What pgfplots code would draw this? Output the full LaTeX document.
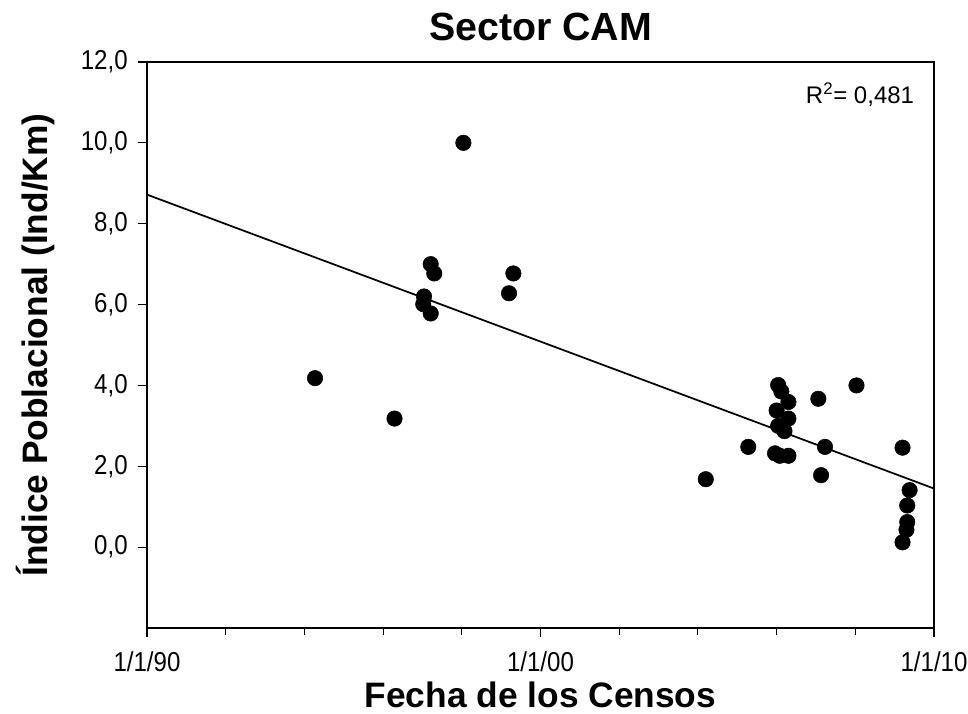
\documentclass[border=0pt]{standalone}
\usepackage{fontspec}
\setmainfont{Liberation Sans}
\usepackage{pgfplots}
\pgfplotsset{compat=1.18}
\begin{document}
\begin{tikzpicture}
\useasboundingbox (0,0) rectangle (726pt,535.5pt);
\begin{axis}[
  at={(110.25pt,64.5pt)}, anchor=south west,
  scale only axis, width=590.25pt, height=424.5pt,
  xmin=1990, xmax=2010, ymin=-2, ymax=12,
  axis line style={line width=1pt},
  xtick={1990,2000,2010}, xticklabels={1/1/90,1/1/00,1/1/10},
  minor xtick={1992,1994,1996,1998,2002,2004,2006,2008},
  ytick={0,2,4,6,8,10,12},
  tick align=outside, tick pos=left,
  major tick length=7pt, minor tick length=5pt,
  every tick/.style={black, line width=0.8pt},
  /pgf/number format/assume math mode=true,
  yticklabel style={/pgf/number format/fixed, /pgf/number format/fixed zerofill,
    /pgf/number format/precision=1, /pgf/number format/use comma, xshift=-5pt},
  xticklabel style={yshift=-7pt},
  ticklabel style={font=\fontsize{20.5}{23}\selectfont, xscale=0.88},
  title={Sector CAM},
  title style={font=\bfseries\fontsize{29.5}{32}\selectfont, at={(axis description cs:0.5,1.048)}, anchor=center},
  xlabel={Fecha de los Censos},
  xlabel style={font=\bfseries\fontsize{26.5}{30}\selectfont, at={(axis description cs:0.5,-0.118)}, anchor=center},
  ylabel={Índice Poblacional (Ind/Km)},
  ylabel style={font=\bfseries\fontsize{26.5}{30}\selectfont, at={(axis description cs:-0.142,0.5)}, anchor=center, rotate=0},
  clip=false,
]
\addplot[black, line width=1.3pt] coordinates {(1990,8.72) (2010,1.45)};
\addplot[only marks, mark=*, mark size=5.8pt, black] table {
x y
1994.27 4.18
1996.29 3.18
1997.04 6.20
1997.02 6.01
1997.21 5.78
1997.21 7.00
1997.30 6.77
1998.04 10.0
1999.20 6.28
1999.31 6.77
2004.20 1.68
2005.28 2.48
2006.04 4.01
2006.12 3.85
2006.30 3.59
2006.00 3.38
2006.30 3.18
2006.04 3.00
2006.20 2.87
2005.96 2.32
2006.08 2.26
2006.30 2.26
2007.06 3.67
2007.23 2.48
2007.13 1.78
2008.03 4.00
2009.20 2.46
2009.38 1.41
2009.32 1.03
2009.32 0.62
2009.30 0.43
2009.20 0.12
};
\node[font=\fontsize{18}{20}\selectfont] at (axis description cs:0.906,0.942) {R\textsuperscript{2}= 0,481};
\end{axis}
\end{tikzpicture}
\end{document}
